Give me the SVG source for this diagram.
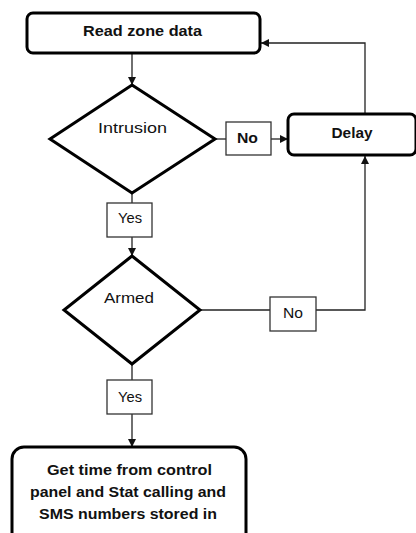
<svg xmlns="http://www.w3.org/2000/svg" width="416" height="533" viewBox="0 0 416 533">
<style>
.term{fill:#fff;stroke:#000;stroke-width:3}
.dec{fill:#fff;stroke:#000;stroke-width:3;stroke-linejoin:miter}
.lbl{fill:#fff;stroke:#333;stroke-width:1.3}
.t{font-family:"Liberation Sans",Arial,sans-serif;font-size:15.5px;fill:#111;text-anchor:middle}
.b{font-weight:bold}
.c{fill:none;stroke:#222;stroke-width:1.3}
</style>
<defs>
<marker id="ah" viewBox="0 0 8 8" refX="8" refY="4" markerWidth="8" markerHeight="8" markerUnits="userSpaceOnUse" orient="auto">
<path d="M0,0 L8,4 L0,8 Z" fill="#111"/>
</marker>
</defs>
<g id="connectors">
<line class="c" x1="132" y1="53" x2="132" y2="85" marker-end="url(#ah)"/>
<line class="c" x1="215" y1="139" x2="226" y2="139"/>
<line class="c" x1="271" y1="139" x2="288" y2="139" marker-end="url(#ah)"/>
<polyline class="c" points="365,114 365,43 261,43" marker-end="url(#ah)"/>
<line class="c" x1="132" y1="193" x2="132" y2="203"/>
<line class="c" x1="132" y1="237" x2="132" y2="256" marker-end="url(#ah)"/>
<line class="c" x1="200" y1="310" x2="270" y2="310"/>
<polyline class="c" points="316,310 365,310 365,156" marker-end="url(#ah)"/>
<line class="c" x1="132" y1="364" x2="132" y2="380"/>
<line class="c" x1="132" y1="414" x2="132" y2="447" marker-end="url(#ah)"/>
</g>
<g id="read">
<rect class="term" x="27" y="13" width="233" height="40" rx="6"/>
<text class="t b" x="142.5" y="36" textLength="119" lengthAdjust="spacingAndGlyphs">Read zone data</text>
</g>
<g id="intrusion">
<polygon class="dec" points="132,85 215,139 132,193 50,139"/>
<text class="t" x="132.5" y="133" textLength="69" lengthAdjust="spacingAndGlyphs">Intrusion</text>
</g>
<g id="no1">
<rect class="lbl" x="226" y="122" width="45" height="33"/>
<text class="t b" x="247.5" y="143" textLength="21" lengthAdjust="spacingAndGlyphs">No</text>
</g>
<g id="delay">
<rect class="term" x="288" y="114" width="128" height="41" rx="6"/>
<text class="t b" x="352" y="138" textLength="41" lengthAdjust="spacingAndGlyphs">Delay</text>
</g>
<g id="yes1">
<rect class="lbl" x="107" y="203" width="45" height="34"/>
<text class="t" x="130" y="223" textLength="24" lengthAdjust="spacingAndGlyphs">Yes</text>
</g>
<g id="armed">
<polygon class="dec" points="132,256 200,310 132,364 64,310"/>
<text class="t" x="129" y="303" textLength="50" lengthAdjust="spacingAndGlyphs">Armed</text>
</g>
<g id="no2">
<rect class="lbl" x="270" y="297" width="46" height="34"/>
<text class="t" x="293" y="318" textLength="20" lengthAdjust="spacingAndGlyphs">No</text>
</g>
<g id="yes2">
<rect class="lbl" x="107" y="380" width="45" height="34"/>
<text class="t" x="130" y="402" textLength="24" lengthAdjust="spacingAndGlyphs">Yes</text>
</g>
<g id="get">
<rect class="term" x="12" y="447" width="234" height="100" rx="12"/>
<text class="t b" x="129.5" y="475" textLength="165" lengthAdjust="spacingAndGlyphs">Get time from control</text>
<text class="t b" x="128" y="497" textLength="196" lengthAdjust="spacingAndGlyphs">panel and Stat calling and</text>
<text class="t b" x="128" y="519" textLength="178" lengthAdjust="spacingAndGlyphs">SMS numbers stored in</text>
</g>
</svg>
